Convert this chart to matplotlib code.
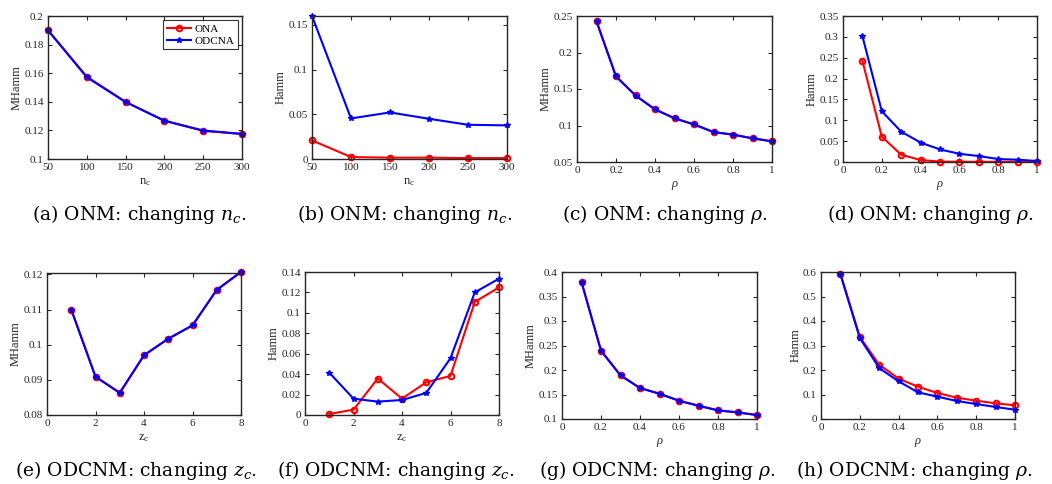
import numpy as np
import matplotlib
matplotlib.use("Agg")
import matplotlib.pyplot as plt
from matplotlib.ticker import FuncFormatter

plt.rcParams["font.family"] = ["Liberation Serif", "DejaVu Serif"]
plt.rcParams["mathtext.fontset"] = "custom"
plt.rcParams["mathtext.rm"] = "Liberation Serif"
plt.rcParams["mathtext.it"] = "Liberation Serif:italic"

# ---- data ----
nc = [50, 100, 150, 200, 250, 300]
rho = [0.1, 0.2, 0.3, 0.4, 0.5, 0.6, 0.7, 0.8, 0.9, 1.0]
zc = [1, 2, 3, 4, 5, 6, 7, 8]

# (a) ONM, MHamm vs n_c
a_ona = [0.190, 0.1575, 0.140, 0.1267, 0.1197, 0.1174]
a_odcna = [0.190, 0.1572, 0.1398, 0.1268, 0.1199, 0.1176]
# (b) ONM, Hamm vs n_c
b_ona = [0.0208, 0.0022, 0.0015, 0.0015, 0.0010, 0.0010]
b_odcna = [0.160, 0.0454, 0.0521, 0.0450, 0.0383, 0.0376]
# (c) ONM, MHamm vs rho
c_ona = [0.2428, 0.1674, 0.1412, 0.1222, 0.1100, 0.1015, 0.0911, 0.0875, 0.0825, 0.0784]
c_odcna = [0.2426, 0.1672, 0.1410, 0.1220, 0.1098, 0.1014, 0.0910, 0.0874, 0.0824, 0.0783]
# (d) ONM, Hamm vs rho
d_ona = [0.2425, 0.0608, 0.0174, 0.0047, 0.0010, 0.0006, 0.0005, 0.0005, 0.0005, 0.0005]
d_odcna = [0.3017, 0.1217, 0.0727, 0.0466, 0.0300, 0.0197, 0.0142, 0.0071, 0.0055, 0.0024]
# (e) ODCNM, MHamm vs z_c
e_ona = [0.1100, 0.0909, 0.0863, 0.0970, 0.1017, 0.1055, 0.1156, 0.1207]
e_odcna = [0.1100, 0.0909, 0.0863, 0.0970, 0.1017, 0.1055, 0.1156, 0.1207]
# (f) ODCNM, Hamm vs z_c
f_ona = [0.0010, 0.0052, 0.0357, 0.0160, 0.0320, 0.0383, 0.1106, 0.1250]
f_odcna = [0.0415, 0.0160, 0.0131, 0.0147, 0.0216, 0.0556, 0.1200, 0.1335]
# (g) ODCNM, MHamm vs rho
g_ona = [0.3796, 0.2395, 0.1891, 0.1633, 0.1517, 0.1374, 0.1272, 0.1177, 0.1136, 0.1082]
g_odcna = [0.3794, 0.2393, 0.1889, 0.1631, 0.1515, 0.1372, 0.1270, 0.1175, 0.1134, 0.1080]
# (h) ODCNM, Hamm vs rho
h_ona = [0.593, 0.3347, 0.2218, 0.1646, 0.1320, 0.1060, 0.0870, 0.0748, 0.0640, 0.0558]
h_odcna = [0.591, 0.3306, 0.2080, 0.1537, 0.1088, 0.0912, 0.0735, 0.0612, 0.0490, 0.0380]

captions = [
    "(a) ONM: changing $n_c$.", "(b) ONM: changing $n_c$.",
    "(c) ONM: changing $\\rho$.", "(d) ONM: changing $\\rho$.",
    "(e) ODCNM: changing $z_c$.", "(f) ODCNM: changing $z_c$.",
    "(g) ODCNM: changing $\\rho$.", "(h) ODCNM: changing $\\rho$.",
]

W, H = 1052, 484
fig = plt.figure(figsize=(W / 100, H / 100), dpi=100)


def box(l, r, t, b):
    return [l / W, 1 - b / H, (r - l) / W, (b - t) / H]


fmt = FuncFormatter(lambda v, p: ("%g" % round(v, 6)))
grey = "#262626"

panels = [
    # x, ona, odcna, rect, xlim, xticks, ylim, yticks, xlabel, ylabel
    (nc, a_ona, a_odcna, box(48, 242, 16, 159), (50, 300), np.arange(50, 301, 50),
     (0.1, 0.2), np.arange(0.1, 0.2001, 0.02), "n$_\\mathrm{c}$", "MHamm"),
    (nc, b_ona, b_odcna, box(312, 507, 16, 159), (50, 300), np.arange(50, 301, 50),
     (0, 0.16), np.arange(0, 0.151, 0.05), "n$_\\mathrm{c}$", "Hamm"),
    (rho, c_ona, c_odcna, box(577, 772, 16, 162), (0, 1), np.arange(0, 1.01, 0.2),
     (0.05, 0.25), np.arange(0.05, 0.2501, 0.05), "$\\rho$", "MHamm"),
    (rho, d_ona, d_odcna, box(843, 1037, 16, 162), (0, 1), np.arange(0, 1.01, 0.2),
     (0, 0.35), np.arange(0, 0.3501, 0.05), "$\\rho$", "Hamm"),
    (zc, e_ona, e_odcna, box(47, 241, 273, 415), (0, 8), np.arange(0, 9, 2),
     (0.08, 0.1204), np.arange(0.08, 0.1201, 0.01), "z$_\\mathrm{c}$", "MHamm"),
    (zc, f_ona, f_odcna, box(305, 499, 272, 415), (0, 8), np.arange(0, 9, 2),
     (0, 0.14), np.arange(0, 0.1401, 0.02), "z$_\\mathrm{c}$", "Hamm"),
    (rho, g_ona, g_odcna, box(562, 757, 272, 419), (0, 1), np.arange(0, 1.01, 0.2),
     (0.1, 0.4), np.arange(0.1, 0.4001, 0.05), "$\\rho$", "MHamm"),
    (rho, h_ona, h_odcna, box(821, 1015, 272, 419), (0, 1), np.arange(0, 1.01, 0.2),
     (0, 0.6), np.arange(0, 0.601, 0.1), "$\\rho$", "Hamm"),
]

for i, (x, ona, odcna, rect, xl, xt, yl, yt, xlab, ylab) in enumerate(panels):
    ax = fig.add_axes(rect)
    ax.plot(x, ona, color="red", marker="o", markersize=4, markerfacecolor="none",
            markeredgewidth=1.5, linewidth=1.5, label="ONA", clip_on=False)
    ax.plot(x, odcna, color="blue", marker="*", markersize=4, linewidth=1.5,
            label="ODCNA", clip_on=False)
    ax.set_xlim(xl)
    ax.set_ylim(yl)
    ax.set_xticks(xt)
    ax.set_yticks(yt)
    ax.xaxis.set_major_formatter(fmt)
    ax.yaxis.set_major_formatter(fmt)
    ax.tick_params(direction="in", top=True, right=True, length=3, width=0.8,
                   labelsize=8, colors=grey, pad=3)
    for s in ax.spines.values():
        s.set_linewidth(1.0)
        s.set_color(grey)
    ax.set_xlabel(xlab, fontsize=9, color=grey, labelpad=3)
    ax.set_ylabel(ylab, fontsize=9, color=grey, labelpad=1)
    if i == 0:
        leg = ax.legend(loc="upper right", fontsize=8, frameon=True, fancybox=False,
                        borderpad=0.3, handlelength=2.2, handletextpad=0.3,
                        labelspacing=0.2, borderaxespad=0.4)
        leg.get_frame().set_edgecolor("black")
        leg.get_frame().set_linewidth(0.8)

cap_pos = [(32, 214), (297, 214), (562, 214), (827, 214),
           (15, 471), (277, 471), (539, 471), (796, 471)]
for (cx, cy), txt in zip(cap_pos, captions):
    fig.text(cx / W, 1 - cy / H, txt, ha="left", va="center", fontsize=13.5,
             family=["DejaVu Serif"], math_fontfamily="dejavuserif")

fig.savefig("out.png", dpi=100)
